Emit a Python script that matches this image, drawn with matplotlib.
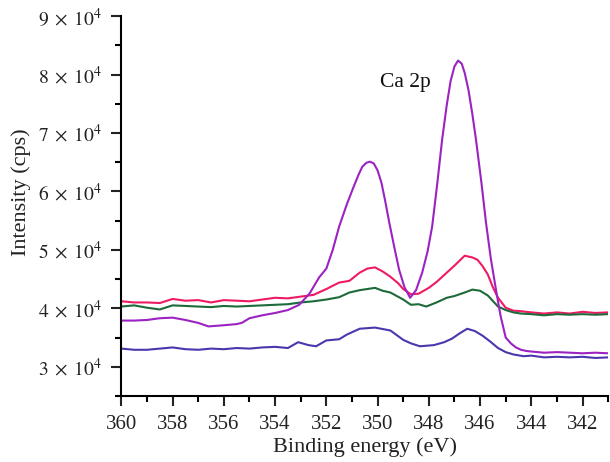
import matplotlib
matplotlib.use("Agg")
import matplotlib.pyplot as plt
from matplotlib.ticker import MultipleLocator, FuncFormatter

plt.rcParams['font.family'] = ['Liberation Serif', 'DejaVu Serif']
plt.rcParams['mathtext.fontset'] = 'stix'

# --- data ---
x_purple = [360, 359.5, 359, 358.5, 358, 357.5, 357, 356.6, 356, 355.5, 355.3, 355, 354.5, 354, 353.5,
            353.06, 352.66, 352.28, 352.0, 351.75, 351.5, 351.2, 350.98, 350.75, 350.6, 350.44, 350.3,
            350.15, 350.0, 349.85, 349.7, 349.55, 349.35, 349.16, 348.95, 348.73, 348.5, 348.26,
            348.05, 347.87, 347.68, 347.48, 347.3, 347.15, 347.0, 346.86, 346.72, 346.6, 346.45,
            346.3, 346.16, 345.95, 345.77, 345.58, 345.38, 345.2, 345.0, 344.8, 344.6, 344.4, 344.2,
            344, 343.5, 343, 342.5, 342, 341.5, 341]
y_purple = [37900, 37900, 38000, 38300, 38400, 38000, 37500, 36900, 37100, 37300, 37500, 38300, 38800,
            39200, 39700, 40600, 42500, 45300, 46800, 50000, 54000, 57800, 60300, 62800, 64200,
            64900, 65100, 64800, 63600, 61500, 58300, 54800, 50500, 46600, 43600, 41800, 43100,
            46100, 49700, 54000, 61000, 68900, 74800, 78900, 81400, 82400, 81900, 80300, 77300,
            73200, 68900, 61600, 54700, 48500, 43200, 38700, 35000, 34000, 33300, 32900, 32700,
            32600, 32400, 32500, 32400, 32300, 32400, 32300]

x_red = [360, 359.5, 359, 358.5, 358, 357.5, 357, 356.5, 356, 355.5, 355, 354.5, 354, 353.5, 353,
         352.5, 352, 351.5, 351.1, 350.7, 350.4, 350.1, 349.8, 349.5, 349.2, 349.0, 348.7, 348.4,
         348.0, 347.7, 347.3, 347.0, 346.6, 346.3, 346.1, 345.9, 345.7, 345.5, 345.3, 345.0, 344.7,
         344.4, 344, 343.5, 343, 342.5, 342, 341.5, 341]
y_red = [41200, 41000, 41000, 40900, 41600, 41300, 41400, 41000, 41400, 41300, 41200, 41500, 41800,
         41700, 42000, 42300, 43300, 44400, 44700, 46100, 46800, 47000, 46300, 45400, 44300, 43300,
         42400, 42500, 43500, 44500, 46100, 47300, 49000, 48700, 48300, 47200, 45800, 43600, 41800,
         40100, 39600, 39500, 39300, 39100, 39300, 39100, 39400, 39200, 39300]

x_green = [360, 359.5, 359, 358.5, 358, 357.5, 357, 356.5, 356, 355.5, 355, 354.5, 354, 353.5, 353,
           352.5, 352, 351.5, 351.1, 350.7, 350.1, 349.8, 349.5, 349.0, 348.7, 348.4, 348.1, 347.7,
           347.3, 347.0, 346.6, 346.3, 346.0, 345.7, 345.3, 345.0, 344.7, 344.4, 344, 343.5, 343,
           342.5, 342, 341.5, 341]
y_green = [40300, 40500, 40100, 39800, 40500, 40400, 40300, 40200, 40400, 40300, 40400, 40500, 40600,
           40700, 41000, 41200, 41500, 41900, 42700, 43100, 43500, 43000, 42700, 41500, 40600, 40700,
           40300, 41000, 41800, 42100, 42700, 43200, 43000, 42200, 40300, 39700, 39300, 39100, 39000,
           38800, 39000, 38900, 39000, 38900, 39000]

x_blue = [360, 359.5, 359, 358.5, 358, 357.5, 357, 356.5, 356, 355.5, 355, 354.5, 354, 353.5, 353.1,
          352.7, 352.4, 352, 351.5, 351.2, 350.7, 350.1, 349.5, 349.0, 348.7, 348.35, 347.8, 347.4,
          347.1, 346.8, 346.5, 346.2, 345.9, 345.6, 345.3, 345.0, 344.7, 344.3, 344, 343.5, 343,
          342.5, 342, 341.5, 341]
y_blue = [33100, 32900, 32900, 33100, 33300, 33000, 32900, 33100, 33000, 33200, 33100, 33300, 33400,
          33200, 34200, 33700, 33500, 34500, 34700, 35500, 36500, 36700, 36200, 34600, 34000, 33500,
          33700, 34200, 34800, 35700, 36500, 36100, 35300, 34300, 33200, 32500, 32100, 31800, 31900,
          31600, 31700, 31600, 31700, 31500, 31600]

x_ticks = [360, 358, 356, 354, 352, 350, 348, 346, 344, 342]
y_ticks = [30000, 40000, 50000, 60000, 70000, 80000, 90000]


def sci_label(v, pos):
    return r'$%d\;\times\;10^{4}$' % round(v / 1e4)


fig = plt.figure(figsize=(6.1, 4.62), dpi=100)
ax = fig.add_axes([0.199, 0.143, 0.798, 0.822])

ax.plot(x_red, y_red, color='#ee1a64', lw=1.5)
ax.plot(x_green, y_green, color='#1d6a3a', lw=1.5)
ax.plot(x_purple, y_purple, color='#9c22c2', lw=1.5)
ax.plot(x_blue, y_blue, color='#4b36ad', lw=1.5)

ax.set_xlim(360, 341)
ax.set_ylim(25000, 90000)
ax.set_xticks(x_ticks)
ax.set_yticks(y_ticks)
ax.xaxis.set_minor_locator(MultipleLocator(1))
ax.yaxis.set_minor_locator(MultipleLocator(5000))
ax.yaxis.set_major_formatter(FuncFormatter(sci_label))

for s in ['top', 'right']:
    ax.spines[s].set_visible(False)
for s in ['left', 'bottom']:
    ax.spines[s].set_linewidth(1.5)

ax.tick_params(which='major', direction='out', length=7, width=1.5, colors='#222222')
ax.tick_params(which='minor', direction='out', length=4, width=1.5)
ax.tick_params(axis='x', which='major', pad=7, labelsize=15)
ax.tick_params(axis='y', which='major', pad=7, labelsize=14)

ax.text(348.9, 78600, 'Ca 2p', ha='center', va='center', fontsize=15.5, color='#111111')
ax.set_xlabel('Binding energy (eV)', fontsize=16, color='#222222', labelpad=2)
ax.set_ylabel('Intensity (cps)', fontsize=16, color='#222222')
ax.yaxis.set_label_coords(-0.185, 0.537)

fig.savefig('out.png', dpi=100)
